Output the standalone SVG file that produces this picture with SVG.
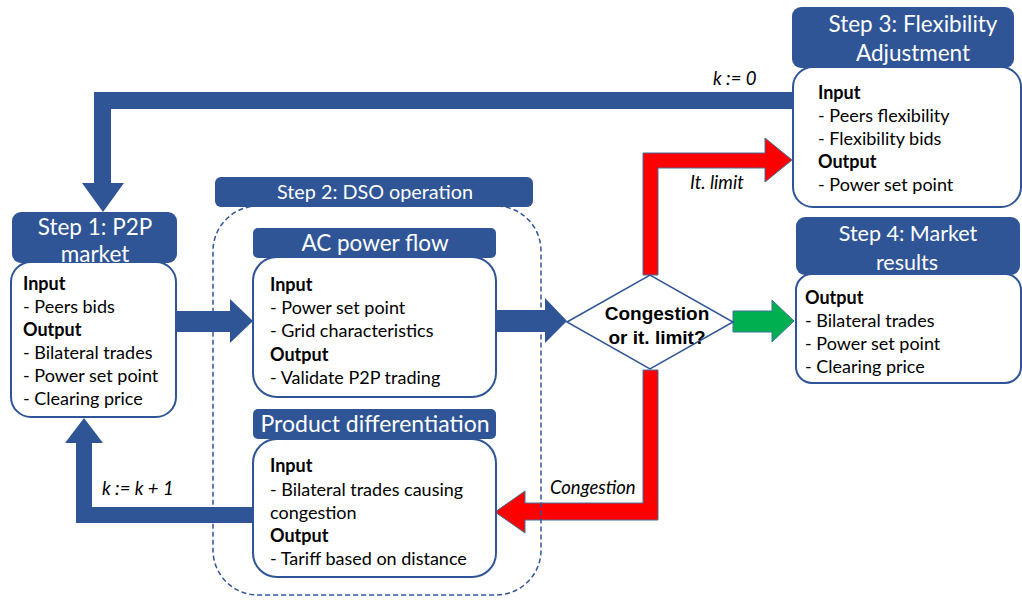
<svg xmlns="http://www.w3.org/2000/svg" width="1022" height="600" viewBox="0 0 1022 600">
  <style>
    .hdr { fill: #2F5597; }
    .body { fill: #ffffff; stroke: #2F5597; stroke-width: 2; }
    .htxt { font-family: Lato, "Liberation Sans", sans-serif; fill: #ffffff; text-anchor: middle; }
    .txt { font-family: Lato, "Liberation Sans", sans-serif; font-size: 18px; fill: #000000; }
    .b { font-weight: bold; }
    .lbl { font-family: Lato, "Liberation Sans", sans-serif; font-size: 18.5px; font-style: italic; fill: #000000; }
    .dec { font-family: "Liberation Sans", Arial, sans-serif; font-size: 19px; font-weight: bold; fill: #000000; text-anchor: middle; }
    .blue { fill: #2F5597; }
    .red { fill: #FF0000; stroke: #41719C; stroke-width: 1; }
    .green { fill: #00B050; stroke: #41719C; stroke-width: 1; }
  </style>

  <rect width="1022" height="600" fill="#ffffff"/>

  <!-- connectors -->
  <g id="connectors">
    <!-- Step 3 back to Step 1 (k := 0) -->
    <polygon class="blue" points="793,92 94,92 94,183 82,183 103,212 124,183 111,183 111,109 793,109"/>
    <!-- Product differentiation back to Step 1 (k := k + 1) -->
    <polygon class="blue" points="253,507 92,507 92,443 103,443 84,418 65,443 76,443 76,523 253,523"/>
    <!-- Step 1 to AC power flow -->
    <polygon class="blue" points="176,311 230,311 230,299 253,321 230,343 230,332 176,332"/>
    <!-- AC power flow to decision -->
    <polygon class="blue" points="496,310 545,310 545,298 567,321 545,343 545,332 496,332"/>
    <!-- decision to Step 4 -->
    <polygon class="green" points="733,311 772,311 772,300 794,321 772,342 772,332 733,332"/>
    <!-- decision to Step 3 (iteration limit) -->
    <polygon class="red" points="643,275 643,153 765,153 765,138 792,160 765,182 765,168 658,168 658,275"/>
    <!-- decision to Product differentiation (congestion) -->
    <polygon class="red" points="643,370 643,503 525,503 525,491 495,512 525,533 525,520 658,520 658,370"/>

    <text class="lbl" x="713" y="85">k := 0</text>
    <text class="lbl" x="690" y="189">It. limit</text>
    <text class="lbl" x="550" y="494">Congestion</text>
    <text class="lbl" x="102" y="495">k := k + 1</text>
  </g>

  <!-- Step 1 -->
  <g id="step1">
    <rect class="body" x="11" y="262" width="165" height="155" rx="20"/>
    <rect class="hdr" x="12" y="212" width="165" height="51" rx="9"/>
    <text class="htxt" x="95" y="235" font-size="22.5">Step 1: P2P</text>
    <text class="htxt" x="95" y="262" font-size="22.5">market</text>
    <text class="txt b" x="23" y="290">Input</text>
    <text class="txt" x="23" y="313">- Peers bids</text>
    <text class="txt b" x="23" y="336">Output</text>
    <text class="txt" x="23" y="359">- Bilateral trades</text>
    <text class="txt" x="23" y="382">- Power set point</text>
    <text class="txt" x="23" y="405">- Clearing price</text>
  </g>

  <!-- Step 2 container -->
  <g id="step2">
    <rect x="213" y="206" width="328" height="389" rx="45" fill="none" stroke="#2F5597" stroke-width="1.5" stroke-dasharray="5 3"/>
    <rect class="hdr" x="215" y="177" width="318" height="30" rx="6"/>
    <text class="htxt" x="375" y="199" font-size="19.8">Step 2: DSO operation</text>
  </g>

  <!-- AC power flow -->
  <g id="ac-power-flow">
    <rect class="body" x="253" y="257" width="243" height="140" rx="24"/>
    <rect class="hdr" x="253" y="228" width="243" height="30" rx="5"/>
    <text class="htxt" x="375" y="251" font-size="22.5">AC power flow</text>
    <text class="txt b" x="270" y="291">Input</text>
    <text class="txt" x="270" y="314">- Power set point</text>
    <text class="txt" x="270" y="337">- Grid characteristics</text>
    <text class="txt b" x="270" y="361">Output</text>
    <text class="txt" x="270" y="384">- Validate P2P trading</text>
  </g>

  <!-- Product differentiation -->
  <g id="product-differentiation">
    <rect class="body" x="253" y="439" width="243" height="138" rx="24"/>
    <rect class="hdr" x="253" y="409" width="243" height="30" rx="5"/>
    <text class="htxt" x="375" y="432" font-size="23">Product differentiation</text>
    <text class="txt b" x="270" y="472">Input</text>
    <text class="txt" x="270" y="496">- Bilateral trades causing</text>
    <text class="txt" x="270" y="519">congestion</text>
    <text class="txt b" x="270" y="542">Output</text>
    <text class="txt" x="270" y="565">- Tariff based on distance</text>
  </g>

  <!-- decision -->
  <g id="decision">
    <polygon points="567,322 650,275 733,322 650,369" fill="#ffffff" stroke="#2F5597" stroke-width="1.5"/>
    <text class="dec" x="657" y="320">Congestion</text>
    <text class="dec" x="657" y="344">or it. limit?</text>
  </g>

  <!-- Step 3 -->
  <g id="step3">
    <rect class="body" x="793" y="67" width="228" height="140" rx="20"/>
    <rect class="hdr" x="792" y="7" width="222" height="61" rx="9"/>
    <text class="htxt" x="913" y="32" font-size="22.5">Step 3: Flexibility</text>
    <text class="htxt" x="913" y="61" font-size="22.5">Adjustment</text>
    <text class="txt b" x="818" y="99">Input</text>
    <text class="txt" x="818" y="122">- Peers flexibility</text>
    <text class="txt" x="818" y="145">- Flexibility bids</text>
    <text class="txt b" x="818" y="168">Output</text>
    <text class="txt" x="818" y="191">- Power set point</text>
  </g>

  <!-- Step 4 -->
  <g id="step4">
    <rect class="body" x="796" y="274" width="225" height="109" rx="16"/>
    <rect class="hdr" x="796" y="217" width="224" height="58" rx="9"/>
    <text class="htxt" x="908" y="241" font-size="21.5">Step 4: Market</text>
    <text class="htxt" x="907" y="270" font-size="21.5">results</text>
    <text class="txt b" x="805" y="304">Output</text>
    <text class="txt" x="805" y="327">- Bilateral trades</text>
    <text class="txt" x="805" y="350">- Power set point</text>
    <text class="txt" x="805" y="373">- Clearing price</text>
  </g>
</svg>
